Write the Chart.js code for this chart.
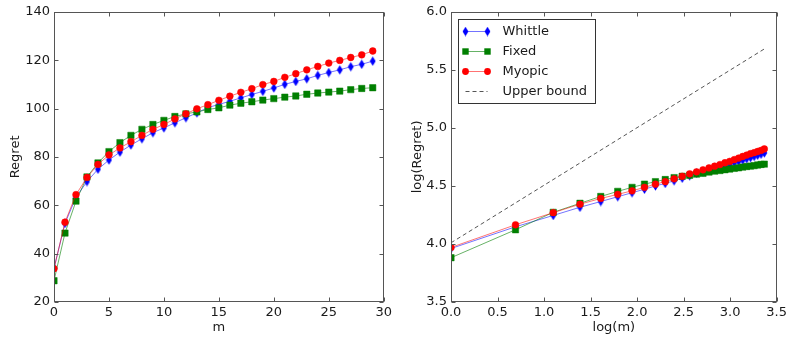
<!DOCTYPE html>
<html>
<head>
<meta charset="utf-8">
<script src="https://cdn.jsdelivr.net/npm/chart.js@4"></script>
<style>
  html, body { margin:0; padding:0; background:#fff; }
  #wrap { position:relative; width:790px; height:339px; }
  canvas { position:absolute; top:0; }
</style>
</head>
<body>
<div id="wrap">
  <canvas id="c1" width="395" height="339" style="left:0"></canvas>
  <canvas id="c2" width="395" height="339" style="left:395px"></canvas>
</div>
<script>
// ---- data ----
const mValues = [0,1,2,3,4,5,6,7,8,9,10,11,12,13,14,15,16,17,18,19,20,21,22,23,24,25,26,27,28,29];
const whittle = [34.0,52.5,63.3,69.8,74.9,78.7,82.0,84.9,87.5,90.0,92.0,94.1,96.2,98.2,100.4,101.7,103.0,104.4,105.8,107.1,108.5,110.0,111.2,112.3,113.7,114.9,116.0,117.3,118.3,119.6];
const fixed   = [28.8,48.5,61.7,71.7,77.5,82.2,85.9,88.9,91.4,93.4,95.1,96.7,97.8,98.6,99.6,100.3,101.4,102.2,102.8,103.5,104.1,104.7,105.2,105.9,106.4,106.8,107.2,107.8,108.3,108.6];
const myopic  = [33.8,53.0,64.4,71.5,76.9,80.8,83.7,86.3,88.9,91.4,93.4,95.7,97.8,99.9,101.6,103.4,105.1,106.7,108.2,109.9,111.2,112.9,114.4,116.0,117.4,118.8,119.9,121.1,122.2,123.8];
const upperBoundM = [1, 29];
const upperBoundLog = [4.01, 5.68];
const leftXTicks = [0,5,10,15,20,25,30];
const leftYTicks = [20,40,60,80,100,120,140];
const rightXTicks = [0,0.5,1.0,1.5,2.0,2.5,3.0,3.5];
const rightYTicks = [3.5,4.0,4.5,5.0,5.5,6.0];
const seriesNames = ['Whittle','Fixed','Myopic','Upper bound'];

// ---- styles ----
const FONT = {family:'"DejaVu Sans", sans-serif', size:13};
const TXT = '#1a1a1a';
const BLUE = '#0000ff', GREEN = '#007f00', RED = '#ff0000';

function thinDiamond(){
  const c = document.createElement('canvas');
  c.width = 7; c.height = 10;
  const g = c.getContext('2d');
  g.fillStyle = BLUE;
  g.beginPath();
  g.moveTo(3.5,0.3); g.lineTo(6.4,5); g.lineTo(3.5,9.7); g.lineTo(0.6,5);
  g.closePath(); g.fill();
  return c;
}
const diamondImg = thinDiamond();

function makeSeries(vals, logMode){
  const out = [];
  mValues.forEach((m,i)=>{
    if (logMode) { if (m>=1) out.push({x:Math.log(m), y:Math.log(vals[i])}); }
    else out.push({x:m, y:vals[i]});
  });
  return out;
}

function datasets(logMode){
  const ds = [
    {label:seriesNames[0], data:makeSeries(whittle,logMode), borderColor:'rgba(0,0,255,0.55)', backgroundColor:BLUE,
     pointStyle:diamondImg, pointRadius:4, borderWidth:1, order:3, _marker:'diamond'},
    {label:seriesNames[1], data:makeSeries(fixed,logMode), borderColor:'rgba(0,127,0,0.6)', backgroundColor:GREEN,
     pointStyle:'rect', pointRadius:4.5, pointBorderColor:GREEN, pointBackgroundColor:GREEN, pointBorderWidth:0.5, borderWidth:1, order:2, _marker:'rect'},
    {label:seriesNames[2], data:makeSeries(myopic,logMode), borderColor:'rgba(255,0,0,0.55)', backgroundColor:RED,
     pointStyle:'circle', pointRadius:3.4, pointBorderColor:RED, pointBackgroundColor:RED, pointBorderWidth:0.5, borderWidth:1, order:1, _marker:'circle'}
  ];
  if (logMode) {
    ds.push({label:seriesNames[3], data:upperBoundM.map((m,i)=>({x:Math.log(m), y:upperBoundLog[i]})),
      borderColor:'#555', borderDash:[4,3], borderWidth:1, pointRadius:0, order:4, _marker:'none'});
  }
  return ds;
}

const framePlugin = {
  id:'frame',
  afterDraw(chart){
    const {ctx, chartArea:a, scales} = chart;
    const L = Math.round(a.left)+0.5, R = Math.round(a.right)-0.5, T = Math.round(a.top)+0.5, B = Math.round(a.bottom)-0.5;
    ctx.save();
    ctx.strokeStyle = '#555'; ctx.lineWidth = 1;
    ctx.beginPath();
    scales.x.ticks.forEach(t=>{
      const p = Math.round(scales.x.getPixelForValue(t.value))+0.5;
      ctx.moveTo(p,B); ctx.lineTo(p,B-4); ctx.moveTo(p,T); ctx.lineTo(p,T+4);
    });
    scales.y.ticks.forEach(t=>{
      const p = Math.round(scales.y.getPixelForValue(t.value))+0.5;
      ctx.moveTo(L,p); ctx.lineTo(L+4,p); ctx.moveTo(R,p); ctx.lineTo(R-4,p);
    });
    ctx.stroke();
    ctx.strokeRect(L, T, R-L, B-T);
    ctx.restore();
  }
};

const legendPlugin = {
  id:'boxLegend',
  afterDraw(chart){
    if (!chart.options.plugins.boxLegend || !chart.options.plugins.boxLegend.show) return;
    const {ctx, chartArea:a} = chart;
    const bx = Math.round(a.left)+7.5, by = Math.round(a.top)+7.5, bw = 137, bh = 84;
    ctx.save();
    ctx.fillStyle = '#fff'; ctx.fillRect(bx,by,bw,bh);
    ctx.strokeStyle = '#333'; ctx.lineWidth = 1; ctx.strokeRect(bx,by,bw,bh);
    seriesNames.forEach((name,i)=>{
      const ds = chart.data.datasets.find(d=>d.label===name);
      const y = by + 12 + i*20;
      const x0 = bx + 7, x1 = bx + 29;
      ctx.save();
      ctx.strokeStyle = ds.borderColor; ctx.lineWidth = 1;
      if (ds.borderDash) ctx.setLineDash(ds.borderDash);
      ctx.beginPath(); ctx.moveTo(x0,y); ctx.lineTo(x1,y); ctx.stroke();
      ctx.restore();
      [x0,x1].forEach(x=>{
        if (ds._marker==='diamond') ctx.drawImage(diamondImg, x-3.5, y-5);
        else if (ds._marker==='rect') { ctx.fillStyle = GREEN; ctx.fillRect(x-3.2,y-3.2,6.4,6.4); }
        else if (ds._marker==='circle') { ctx.fillStyle = RED; ctx.beginPath(); ctx.arc(x,y,3.4,0,Math.PI*2); ctx.fill(); }
      });
      ctx.fillStyle = TXT; ctx.font = '13px "DejaVu Sans", sans-serif';
      ctx.textBaseline = 'middle'; ctx.textAlign = 'left';
      ctx.fillText(name, bx + 44, y);
    });
    ctx.restore();
  }
};

function axisOpts(min, max, tickVals, title, isX, fmt, fitSize, titlePad){
  return {
    type:'linear', min:min, max:max,
    afterBuildTicks(s){ s.ticks = tickVals.map(v=>({value:v})); },
    ticks:{ color:TXT, font:FONT, padding: isX ? 3 : 4, maxRotation:0, autoSkip:false,
            callback:(v)=> fmt ? Number(v).toFixed(1) : String(v) },
    grid:{ display:false, drawTicks:false },
    border:{ display:false },
    title:{ display:true, text:title, color:TXT, font:FONT, padding:titlePad },
    afterFit(s){ if (isX) s.height = fitSize; else s.width = fitSize; }
  };
}

Chart.register(framePlugin, legendPlugin);

new Chart(document.getElementById('c1'), {
  type:'line',
  data:{ datasets: datasets(false) },
  options:{
    responsive:false, animation:false, devicePixelRatio:1,
    layout:{ padding:{ top:10, right:10, left:0, bottom:0 } },
    plugins:{ legend:{display:false}, tooltip:{enabled:false}, boxLegend:{show:false} },
    elements:{ line:{ tension:0 } },
    scales:{
      x: axisOpts(0, 30, leftXTicks, 'm', true, false, 37, {top:0, bottom:4}),
      y: axisOpts(20, 140, leftYTicks, 'Regret', false, false, 54, {top:8, bottom:0})
    }
  }
});

new Chart(document.getElementById('c2'), {
  type:'line',
  data:{ datasets: datasets(true) },
  options:{
    responsive:false, animation:false, devicePixelRatio:1,
    layout:{ padding:{ top:10, right:9, left:0, bottom:0 } },
    plugins:{ legend:{display:false}, tooltip:{enabled:false}, boxLegend:{show:true} },
    elements:{ line:{ tension:0 } },
    scales:{
      x: axisOpts(0, 3.5, rightXTicks, 'log(m)', true, true, 37, {top:0, bottom:4}),
      y: axisOpts(3.5, 6.0, rightYTicks, 'log(Regret)', false, true, 56, {top:15, bottom:0})
    }
  }
});
</script>
</body>
</html>
